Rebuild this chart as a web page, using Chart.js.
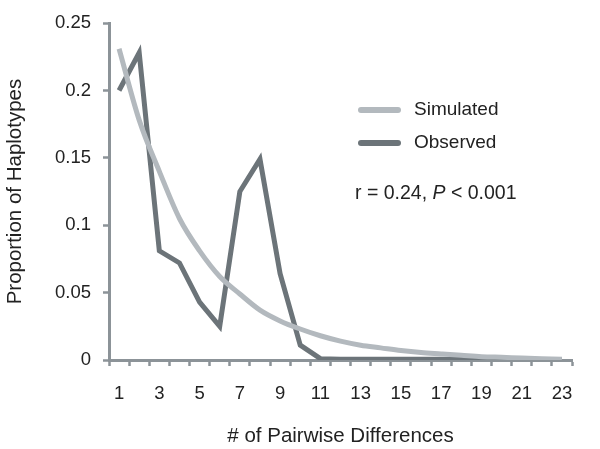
<!DOCTYPE html>
<html>
<head>
<meta charset="utf-8">
<script src="https://cdn.jsdelivr.net/npm/chart.js@4/dist/chart.umd.min.js"></script>
<style>
  html, body { margin: 0; padding: 0; background: #fff; }
  #wrap { width: 600px; height: 449px; }
</style>
</head>
<body>
<div id="wrap"><canvas id="chart"></canvas></div>
<script>
// categories: number of pairwise differences
const differences = ['1','2','3','4','5','6','7','8','9','10','11','12','13','14','15','16','17','18','19','20','21','22','23'];

// proportion of haplotypes
const simulated = [0.231, 0.178, 0.140, 0.105, 0.081, 0.062, 0.049, 0.037, 0.029, 0.023, 0.018,
                   0.014, 0.011, 0.009, 0.007, 0.0055, 0.0045, 0.0035, 0.0025, 0.002, 0.0015, 0.001, 0.0005];
const observed  = [0.200, 0.228, 0.081, 0.072, 0.043, 0.025, 0.125, 0.149, 0.064, 0.011, 0.001,
                   0.0005, 0.0005, 0.0005, 0.0005, 0.0005, 0.0005, 0.0004, 0.0003, 0.0002, 0.0002, 0.0001, 0];

const yTicks = [0, 0.05, 0.1, 0.15, 0.2, 0.25];

const FONT = '"Liberation Sans", Arial, Helvetica, sans-serif';
const AXIS_GREY = '#8c9398';
const TEXT = '#222222';

// legend + stats text drawn inside the plot
const legendPlugin = {
    id: 'customLegend',
    afterDraw(chart) {
        const ctx = chart.ctx;
        ctx.save();
        ctx.font = `19px ${FONT}`;
        ctx.textBaseline = 'middle';
        ctx.fillStyle = TEXT;
        const rows = [110, 143];
        chart.data.datasets.forEach((ds, i) => {
            const y = rows[i];
            ctx.strokeStyle = ds.borderColor;
            ctx.lineWidth = 6;
            ctx.lineCap = 'round';
            ctx.beginPath();
            ctx.moveTo(361, y);
            ctx.lineTo(398, y);
            ctx.stroke();
            ctx.fillText(ds.label, 414, y);
        });

        // r = 0.24, P < 0.001  (P in italics)
        const f = `19.5px ${FONT}`;
        ctx.font = f;
        ctx.textBaseline = 'alphabetic';
        let x = 355;
        const yb = 199;
        const a = 'r = 0.24, ';
        ctx.fillText(a, x, yb);
        x += ctx.measureText(a).width;
        ctx.font = `italic ${f}`;
        ctx.fillText('P', x, yb);
        x += ctx.measureText('P').width;
        ctx.font = f;
        ctx.fillText(' < 0.001', x, yb);
        ctx.restore();
    }
};

new Chart(document.getElementById('chart'), {
    type: 'line',
    data: {
        labels: differences,
        datasets: [
            {
                label: 'Simulated',
                data: simulated,
                borderColor: '#b3b9be',
                borderWidth: 5,
                tension: 0.3,
                cubicInterpolationMode: 'monotone',
                pointRadius: 0,
                fill: false
            },
            {
                label: 'Observed',
                data: observed,
                borderColor: '#6c7479',
                borderWidth: 5,
                tension: 0,
                pointRadius: 0,
                fill: false
            }
        ]
    },
    options: {
        responsive: true,
        maintainAspectRatio: false,
        animation: false,
        layout: { padding: { top: 19, right: 28, bottom: 0, left: 0 } },
        plugins: {
            legend: { display: false },
            tooltip: { enabled: false }
        },
        scales: {
            x: {
                offset: true,
                grid: {
                    offset: true,
                    drawOnChartArea: false,
                    drawTicks: true,
                    tickLength: 6,
                    tickWidth: 2.5,
                    tickColor: AXIS_GREY
                },
                border: { color: AXIS_GREY, width: 3 },
                ticks: {
                    autoSkip: false,
                    maxRotation: 0,
                    padding: 17,
                    color: TEXT,
                    font: { family: FONT, size: 18.5 },
                    callback: function (val, i) { return i % 2 === 0 ? this.getLabelForValue(val) : ''; }
                },
                title: {
                    display: true,
                    text: '# of Pairwise Differences',
                    color: TEXT,
                    font: { family: FONT, size: 20.5 },
                    padding: { top: 0, bottom: 0 }
                },
                afterFit: (scale) => { scale.height = 89; }
            },
            y: {
                min: 0,
                max: 0.25,
                grid: {
                    drawOnChartArea: false,
                    drawTicks: true,
                    tickLength: 6,
                    tickWidth: 2.5,
                    tickColor: AXIS_GREY
                },
                border: { color: AXIS_GREY, width: 3 },
                afterBuildTicks: (scale) => { scale.ticks = yTicks.map(v => ({ value: v })); },
                ticks: {
                    padding: 12,
                    color: TEXT,
                    font: { family: FONT, size: 18.5 },
                    callback: (v) => String(+v.toFixed(2))
                },
                title: {
                    display: true,
                    text: 'Proportion of Haplotypes',
                    color: TEXT,
                    font: { family: FONT, size: 20.5 },
                    padding: { top: 3, bottom: 0 }
                },
                afterFit: (scale) => { scale.width = 109; }
            }
        }
    },
    plugins: [legendPlugin]
});
</script>
</body>
</html>
